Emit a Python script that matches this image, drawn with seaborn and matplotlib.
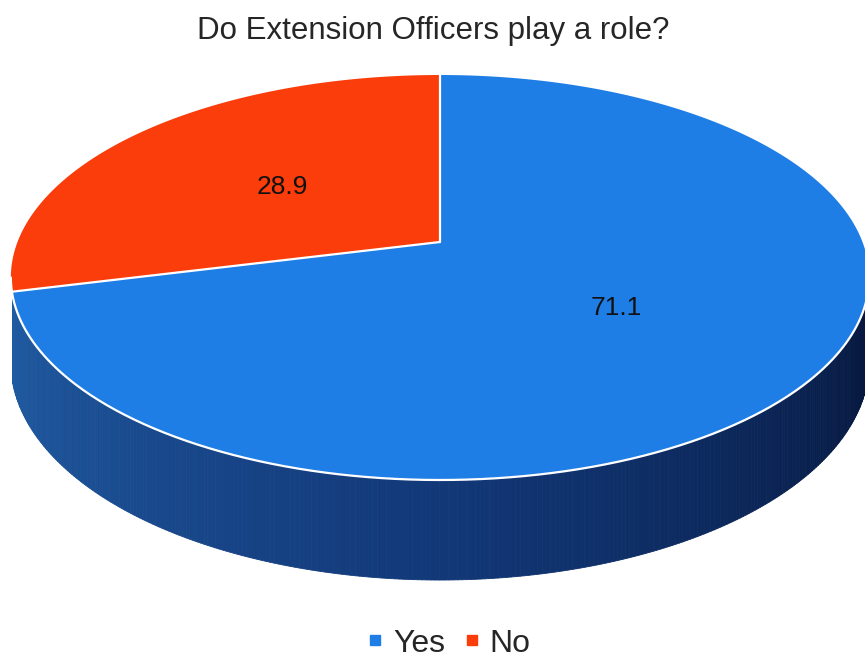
import numpy as np
import matplotlib
matplotlib.use("Agg")
import matplotlib.pyplot as plt
from matplotlib.lines import Line2D
import seaborn as sns

# Survey answers
categories = ["Yes", "No"]
values = [71.1, 28.9]
title = "Do Extension Officers play a role?"

sns.set_theme(style="white")
plt.rcParams["font.family"] = ["Liberation Sans", "DejaVu Sans"]

top_colors = sns.color_palette(["#1f7ee6", "#fa3d0b"])
side_stops = {
    "Yes": [(0.13, 0.37, 0.65), (0.07, 0.22, 0.47), (0.02, 0.08, 0.22)],
    "No": [(0.65, 0.16, 0.04), (0.50, 0.10, 0.03), (0.35, 0.06, 0.02)],
}

# Perspective view of a flat disc (u right, v away from the viewer)
CX, CY = 440.0, 242.0
A, C, B1 = 422.5, 0.1753, -153.85
DEPTH = 82.5


def project(phi_deg, r=1.0, drop=0.0):
    phi = np.radians(phi_deg)
    u, v = r * np.cos(phi), r * np.sin(phi)
    w = 1.0 + C * v
    x = CX + A * u / w
    y = (CY + B1 * v) / w + drop / w
    return x, y


def side_colour(stops, phi):
    t = np.clip((phi - 190.0) / 160.0, 0, 1)
    if t < 0.5:
        a, b, s = stops[0], stops[1], t / 0.5
    else:
        a, b, s = stops[1], stops[2], (t - 0.5) / 0.5
    return tuple(a[i] + (b[i] - a[i]) * s for i in range(3))


fig = plt.figure(figsize=(8.65, 6.6), dpi=100)
ax = fig.add_axes([0, 0, 1, 1])
ax.set_xlim(0, 865)
ax.set_ylim(660, 0)
ax.axis("off")

# Slice angle ranges, clockwise from twelve o'clock
total = sum(values)
spans = []
start = 90.0
for cat, val in zip(categories, values):
    sweep = val / total * 360.0
    spans.append((cat, start - sweep, start))
    start -= sweep

# Visible front wall of the cylinder (the lower rim sits slightly inside
# the upper one, so the wall starts a little past the silhouette angle)
sil = np.degrees(np.arcsin(C))
vis_lo, vis_hi = 185.0 + sil, 360.0 - sil
for cat, lo, hi in spans:
    lo_n, hi_n = lo % 360, hi % 360
    if hi_n <= lo_n:
        hi_n += 360
    for off in (0, 360, -360):
        a0 = max(lo_n + off, vis_lo)
        a1 = min(hi_n + off, vis_hi)
        if a1 <= a0:
            continue
        grid = np.linspace(a0, a1, max(2, int((a1 - a0) * 2)))
        for p0, p1 in zip(grid[:-1], grid[1:]):
            xt0, yt0 = project(p0)
            xt1, yt1 = project(p1)
            xb0, yb0 = project(p0, drop=DEPTH)
            xb1, yb1 = project(p1, drop=DEPTH)
            col = side_colour(side_stops[cat], 0.5 * (p0 + p1))
            ax.fill([xt0, xt1, xb1, xb0], [yt0, yt1, yb1, yb0],
                    color=col, lw=0.6, ec=col, zorder=1)

# Top faces
for (cat, lo, hi), col in zip(spans, top_colors):
    arc = np.linspace(lo, hi, 400)
    xs, ys = project(arc)
    ax.fill(np.r_[CX, xs], np.r_[CY, ys], color=col, lw=0, zorder=2)

# Thin white seams
for cat, lo, hi in spans:
    x1, y1 = project(lo)
    ax.plot([CX, x1], [CY, y1], color="white", lw=1.6, zorder=3,
            solid_capstyle="round")
front = np.linspace(180.0 + sil, vis_hi, 400)
fx, fy = project(front)
ax.plot(fx, fy, color="white", lw=1.6, zorder=3)

# Value labels at half radius along each slice bisector
for cat, lo, hi in spans:
    mid = 0.5 * (lo + hi)
    lx, ly = project(mid, r=0.5)
    val = values[categories.index(cat)]
    ax.text(lx, ly + 2, f"{val:.1f}", ha="center", va="center",
            fontsize=19, color="#111111", zorder=4)

ax.text(433, 31, title, ha="center", va="center", fontsize=22.5,
        color="#262626")

handles = [Line2D([0], [0], marker="s", ls="", markersize=7,
                  markerfacecolor=c, markeredgecolor=c) for c in top_colors]
ax.legend(handles, categories, loc="center", bbox_to_anchor=(0.519, 0.025),
          ncol=2, frameon=False, fontsize=23, handlelength=0.5,
          handletextpad=0.3, columnspacing=0.6, labelcolor="#262626",
          borderpad=0.1)

fig.savefig("out.png", dpi=100, facecolor="white")
